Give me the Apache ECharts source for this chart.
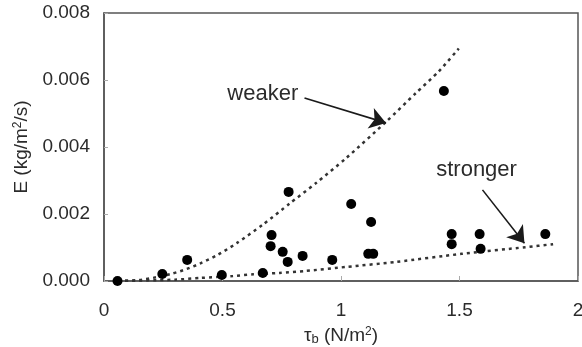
<!DOCTYPE html>
<html>
<head>
<meta charset="utf-8">
<script src="https://cdn.jsdelivr.net/npm/echarts@6/dist/echarts.min.js"></script>
<style>html,body{margin:0;padding:0;background:#fff}#c{width:582px;height:347px}</style>
</head>
<body>
<div id="c"></div>
<script>
// Measured points
var tauB = [0.057, 0.246, 0.351, 0.497, 0.67, 0.707, 0.703, 0.754, 0.775, 0.838, 0.779, 0.963, 1.043, 1.127, 1.115, 1.136, 1.434, 1.467, 1.467, 1.585, 1.589, 1.862];
var E    = [0.0, 0.00021, 0.00063, 0.00018, 0.00024, 0.00137, 0.00104, 0.00087, 0.00057, 0.00075, 0.00266, 0.00063, 0.0023, 0.00176, 0.00081, 0.00081, 0.00567, 0.0014, 0.0011, 0.0014, 0.00096, 0.0014];
// "weaker" dotted curve
var weakerX = [0.06, 0.15, 0.22, 0.288, 0.35, 0.405, 0.48, 0.56, 0.67, 0.783, 0.896, 1.022, 1.19, 1.316, 1.413, 1.497];
var weakerY = [0.0, 0.00003, 0.00011, 0.00022, 0.00036, 0.00052, 0.00078, 0.00113, 0.00168, 0.00231, 0.00293, 0.00367, 0.00475, 0.00561, 0.00626, 0.00694];
// "stronger" dotted curve
var strongerX = [0.06, 0.3, 0.405, 0.544, 0.63, 0.74, 0.85, 1.022, 1.232, 1.509, 1.778, 1.895];
var strongerY = [0.0, 0.00004, 0.00009, 0.00015, 0.0002, 0.00024, 0.0003, 0.00042, 0.00057, 0.00081, 0.00101, 0.0011];
// axis ticks
var xTicks = [0, 0.5, 1, 1.5, 2];
var yTicks = [0, 0.002, 0.004, 0.006, 0.008];

function pairs(a, b) { return a.map(function (v, i) { return [v, b[i]]; }); }

var FONT = '"Liberation Sans", Arial, sans-serif';
var TXT = '#2b2b2b';
var AX = '#555';
var chart = echarts.init(document.getElementById('c'));
chart.setOption({
  animation: false,
  textStyle: { fontFamily: FONT },
  grid: { left: 104, right: 4, top: 13, bottom: 66, show: true, borderColor: AX, borderWidth: 1.5, containLabel: false, outerBoundsMode: 'none' },
  xAxis: {
    type: 'value', min: xTicks[0], max: xTicks[xTicks.length - 1], interval: 0.5,
    axisLine: { lineStyle: { color: AX, width: 1.5 } },
    axisTick: { inside: true, length: 5, lineStyle: { color: '#aaa' } },
    splitLine: { show: false },
    axisLabel: { color: TXT, fontSize: 19, fontFamily: FONT, margin: 20, formatter: function (v) { return String(v); } },
    name: '{t|τ}{sub|b} (N/m{sup|2})', nameLocation: 'middle', nameGap: 45,
    nameTextStyle: { color: TXT, fontSize: 19, fontFamily: FONT,
      rich: { t: { fontSize: 19, color: TXT, fontFamily: FONT }, sub: { fontSize: 13, color: TXT, fontFamily: FONT, verticalAlign: 'bottom', padding: [6, 0, 0, 0] }, sup: { fontSize: 12, color: TXT, fontFamily: FONT, verticalAlign: 'top', padding: [0, 0, 8, 0] } } }
  },
  yAxis: {
    type: 'value', min: yTicks[0], max: yTicks[yTicks.length - 1], interval: 0.002,
    axisLine: { show: true, lineStyle: { color: AX, width: 1.5 } },
    axisTick: { show: true, inside: true, length: 4, lineStyle: { color: '#aaa' } },
    splitLine: { show: false },
    axisLabel: { color: TXT, fontSize: 19, fontFamily: FONT, margin: 14, formatter: function (v) { return v.toFixed(3); } },
    name: 'E (kg/m{sup|2}/s)', nameLocation: 'middle', nameRotate: 90, nameGap: 72,
    nameTextStyle: { color: TXT, fontSize: 19, fontFamily: FONT,
      rich: { sup: { fontSize: 12, color: TXT, fontFamily: FONT, verticalAlign: 'top', padding: [0, 0, 8, 0] } } }
  },
  series: [
    { type: 'line', data: pairs(weakerX, weakerY), smooth: 0.25, showSymbol: false, symbol: 'none',
      lineStyle: { color: '#333', width: 2.5, type: [3, 4] }, z: 2,
      markLine: { silent: true, symbol: ['none', 'arrow'], symbolSize: 16,
        lineStyle: { type: 'solid', color: '#1a1a1a', width: 1.6 }, label: { show: false },
        data: [[{ coord: [0.846, 0.00546] }, { coord: [1.19, 0.00472] }]] },
      markPoint: { silent: true, symbol: 'circle', symbolSize: 0,
        label: { show: true, position: 'inside', color: TXT, fontSize: 22, fontFamily: FONT, formatter: 'weaker' },
        data: [{ coord: [0.67, 0.00558] }] } },
    { type: 'line', data: pairs(strongerX, strongerY), smooth: 0.25, showSymbol: false, symbol: 'none',
      lineStyle: { color: '#333', width: 2.5, type: [3, 4] }, z: 2,
      markLine: { silent: true, symbol: ['none', 'arrow'], symbolSize: 16,
        lineStyle: { type: 'solid', color: '#1a1a1a', width: 1.6 }, label: { show: false },
        data: [[{ coord: [1.597, 0.00272] }, { coord: [1.774, 0.00113] }]] },
      markPoint: { silent: true, symbol: 'circle', symbolSize: 0,
        label: { show: true, position: 'inside', color: TXT, fontSize: 22, fontFamily: FONT, formatter: 'stronger' },
        data: [{ coord: [1.572, 0.00331] }] } },
    { type: 'scatter', data: pairs(tauB, E), symbol: 'circle', symbolSize: 10,
      itemStyle: { color: '#000', opacity: 1 }, z: 3 }
  ]
});
</script>
</body>
</html>
